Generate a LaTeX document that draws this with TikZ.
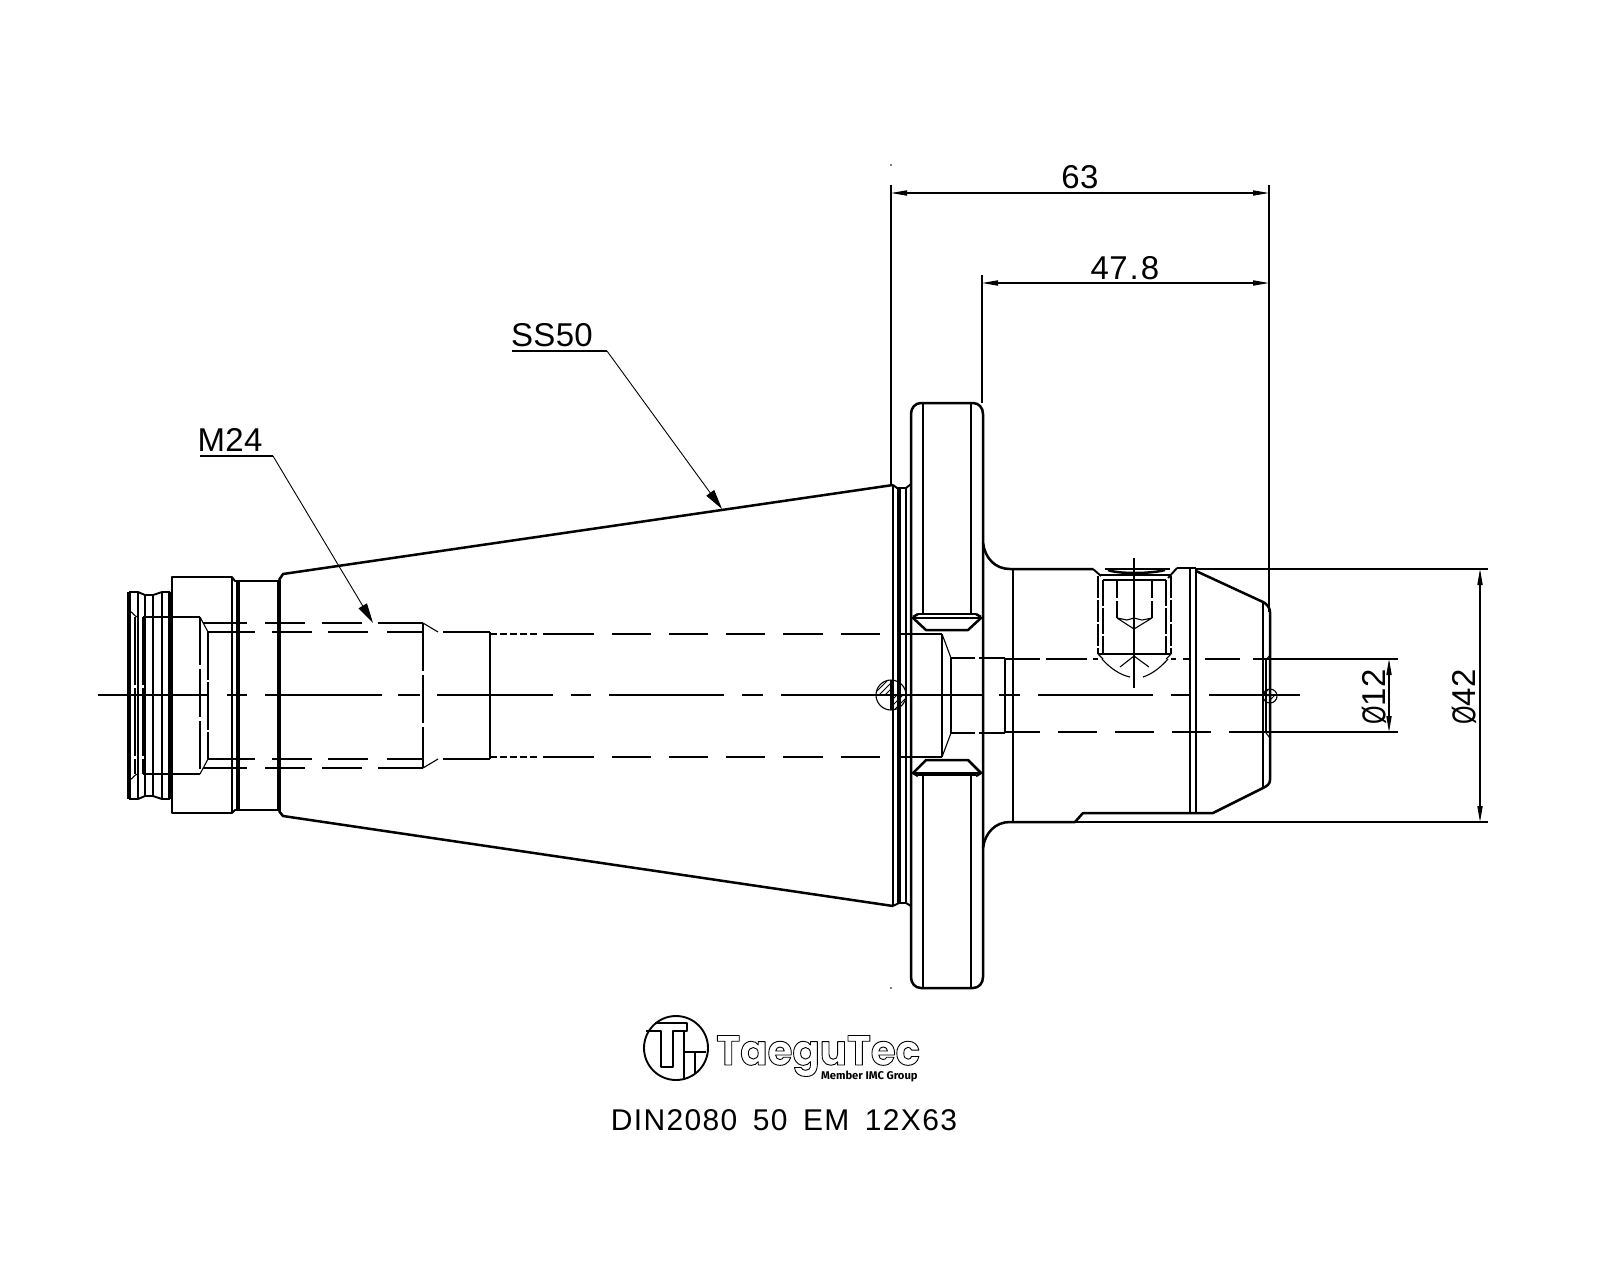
\documentclass[tikz,border=0pt]{standalone}
\usepackage{fontspec}
\usetikzlibrary{arrows.meta,patterns}
\setmainfont{Liberation Sans}
\newfontfamily\cadfont[LetterSpace=1]{Liberation Sans}
\newfontfamily\titlefont[LetterSpace=4.5,WordSpace=1.6]{Liberation Sans}
\newfontfamily\logofont{Poppins}
\newfontfamily\subfont{Fira Sans}
\newcommand\dashrow[2]{\foreach \a/\b in {#2} \draw[ln] (\a,#1) -- (\b,#1);}
\newcommand\outlined[1]{\special{pdf:code 1 Tr 0.45 w}#1\special{pdf:code 0 Tr}}
\newcommand\dia{\scalebox{0.72}[1]{Ø}}
\tikzset{
 ln/.style={line width=0.55pt,black},
 lna/.style={line width=0.95pt,black},
 lnb/.style={line width=1.25pt,black},
 lnc/.style={line width=1.8pt,black},
 lnd/.style={line width=2.4pt,black},
 dimline/.style={line width=0.55pt,black,{Triangle[length=8pt,width=2.6pt]}-{Triangle[length=8pt,width=2.6pt]}},
 leader/.style={line width=0.45pt,black,-{Triangle[length=10pt,width=4.8pt]}},
 lbl/.style={font=\fontsize{16.5}{16.5}\selectfont\cadfont,inner sep=0pt},
 hatch/.style={pattern=north east lines,draw=none}
}
\begin{document}
\begin{tikzpicture}[x=0.5pt,y=-0.5pt,line cap=butt,line join=round]
\useasboundingbox[fill=white] (0,0) rectangle (1600,1280);

% --- axis and hidden lines
\dashrow{695}{98/208,227/247,265/382,398/420,437/553,571/591,609/724,742/763,781/982,999/1020,1038/1153,1171/1190,1209/1300}
\dashrow{617}{143/168,173/200}
\dashrow{774}{143/168,173/200}
\dashrow{623}{203/247,265/305,322/362,378/423}
\dashrow{768}{203/247,265/305,322/362,378/423}
\dashrow{632}{208/255,272/312,328/368,387/423,443/489}
\dashrow{759}{208/255,272/312,328/368,387/423,443/489}
\dashrow{634}{490/497,500/507,510/517,520/527,530/537,543/594,612/651,669/708,726/765,783/823,841/880,898/942}
\dashrow{757}{490/497,500/507,510/517,520/527,530/537,543/594,612/651,669/708,726/765,783/823,841/880,898/942}
\dashrow{658}{951/975,979/1005}
\dashrow{733}{951/975,979/1005}
\dashrow{659}{1005/1040,1046/1087,1093/1098,1171/1176,1183/1190,1205/1240,1253/1398}
\dashrow{732}{1005/1040,1058/1097,1115/1154,1172/1211,1229/1398}
\draw[ln,dash pattern=on 34pt off 1.5pt] (135,617) -- (135,774);
\draw[ln,dash pattern=on 34pt off 1.5pt] (143,617) -- (143,774);
\draw[ln,dash pattern=on 24pt off 2pt] (200,617) -- (200,774);
\draw[ln,dash pattern=on 24pt off 1pt] (208,632) -- (208,759);
\draw[ln,dash pattern=on 24pt off 2pt] (423,623) -- (423,768);
\draw[ln] (200,617) -- (208,632) (200,774) -- (208,759);
\draw[ln] (423,623) -- (438,632) (423,768) -- (438,759);
\draw[ln] (130,611) .. controls (133,613) and (135,617) .. (138,617);
\draw[ln] (130,780) .. controls (133,778) and (135,774) .. (138,774);
\draw[ln] (942,634) -- (942,757) (951,658) -- (951,733);
\draw[ln] (942,634) -- (951,658) (942,757) -- (951,733);

% --- pull-stud end
\draw[lna] (138,592) -- (138,799);
\draw[lnc] (129,592) -- (129,799);
\draw[lnb] (145,595) -- (145,796);
\draw[lna] (153,595) -- (153,796);
\draw[lna] (162,592) -- (162,799);
\draw[lnd] (170,592) -- (170,799);
\draw[lna] (129,592) -- (138,592) -- (145,595) -- (153,595) -- (162,592) -- (170,592);
\draw[lna] (129,799) -- (138,799) -- (145,796) -- (153,796) -- (162,799) -- (170,799);
\draw[lnb] (172,577) -- (232,577) -- (232,813) -- (172,813) -- cycle;
\draw[lna] (232,577) -- (235,581) -- (238,581) (232,813) -- (235,810) -- (238,810);
\draw[lnc] (238,581) -- (238,810);
\draw[lnb] (238,581) -- (279,581) (238,810) -- (279,810);
\draw[lnd] (279,580) -- (279,811);
\draw[lnb] (279,580) -- (283,574) -- (893,485);
\draw[lnb] (279,811) -- (283,816) -- (893,906);
\draw[lnb] (490,632) -- (490,759);
\draw[ln] (480,632) -- (490,632) (480,759) -- (490,759);

% --- flange
\draw[lnb] (893,485) -- (893,906);
\draw[lnd] (899,488) -- (899,903);
\draw[lnb] (906,488) -- (906,903);
\draw[lna] (893,485) -- (897,488) -- (906,488) -- (911,484);
\draw[lna] (893,906) -- (899,903) -- (906,903) -- (911,906);
\draw[lnb] (921,403) .. controls (915,403) and (911,408) .. (911,414) -- (911,977) .. controls (911,983) and (915,988) .. (921,988) -- (973,988) .. controls (979,988) and (983,983) .. (983,977) -- (983,414) .. controls (983,408) and (979,403) .. (973,403) -- cycle;
\draw[lnb] (923,403) -- (923,614) (971,403) -- (971,614);
\draw[lnb] (923,775) -- (923,988) (971,775) -- (971,988);
\draw[lna] (918,614) -- (976,614);
\draw[lnb] (912,618) -- (982,618);
\draw[lnb] (913,617) -- (918,614) (976,614) -- (981,617);
\draw[lnb] (913,618) -- (926,630) -- (968,630) -- (981,618);
\draw[lna] (918,775) -- (976,775);
\draw[lnb] (912,773) -- (982,773);
\draw[lnb] (913,773) -- (918,776) (976,776) -- (981,773);
\draw[lnb] (913,773) -- (926,760) -- (968,760) -- (981,773);

% --- hub
\draw[lnb] (983,543) .. controls (985,558) and (995,569) .. (1010,569) -- (1093,569);
\draw[lnb] (983,848) .. controls (985,833) and (995,822) .. (1010,822) -- (1075,822) -- (1083,813) -- (1213,813) -- (1263,788) .. controls (1267,786) and (1270,784) .. (1270,780) -- (1270,612) .. controls (1270,608) and (1267,604) .. (1263,602) -- (1196,571);
\draw[lnb] (1177,568) -- (1196,568);
\draw[lnb] (1005,658) -- (1005,733);
\draw[lnb] (1013,569) -- (1013,822);
\draw[lnb] (1190,569) -- (1190,813);
\draw[lnb] (1196,569) -- (1196,813);
\draw[lnb] (1263,602) -- (1263,788);
\draw[ln] (1266,660) -- (1266,733);
\draw[ln] (1266,660) -- (1270,655) (1266,733) -- (1270,738);

% --- set screw
\draw[lna] (1093,569) -- (1101,576) (1177,568) -- (1168,578);
\draw[lnb] (1108,570) .. controls (1118,574) and (1150,574) .. (1165,570);
\draw[ln] (1105,569) -- (1170,569);
\draw[lna] (1099,575) -- (1170,575);
\draw[ln] (1103,580) -- (1166,580);
\draw[ln,dash pattern=on 11pt off 1pt] (1098,576) -- (1098,654);
\draw[ln,dash pattern=on 11pt off 1pt] (1171,576) -- (1171,654);
\draw[ln,dash pattern=on 13pt off 1pt] (1103,580) -- (1103,654);
\draw[ln,dash pattern=on 13pt off 1pt] (1166,580) -- (1166,654);
\draw[ln,dash pattern=on 9pt off 1.5pt] (1117,580) -- (1117,618);
\draw[ln,dash pattern=on 9pt off 1.5pt] (1152,580) -- (1152,618);
\draw[ln] (1117,618) -- (1134,629) -- (1152,618) (1117,618) -- (1127,620) -- (1134,618) -- (1142,620) -- (1152,618);
\draw[ln] (1098,654) -- (1171,654);
\draw[ln] (1098,654) -- (1103,659) (1171,654) -- (1166,659);
\draw[ln] (1102,659) .. controls (1110,668) and (1120,675) .. (1130,677);
\draw[ln] (1168,659) .. controls (1160,668) and (1152,674) .. (1143,677);
\draw[ln] (1120,667) -- (1134,656) -- (1149,667);
\draw[ln] (1134,558) -- (1134,688);

% --- section marks
\draw[ln] (891,695) circle[radius=15];
\fill[hatch] (891,695) -- (876,695) arc[start angle=180,end angle=270,radius=15] -- cycle;
\fill[hatch] (891,695) -- (906,695) arc[start angle=0,end angle=90,radius=15] -- cycle;
\draw[ln] (891,680) -- (891,710);
\draw[ln] (1270,696) circle[radius=7];
\fill[pattern=north east lines] (1270,696) -- (1263,696) arc[start angle=180,end angle=270,radius=7] -- cycle;
\fill[pattern=north east lines] (1270,696) -- (1277,696) arc[start angle=0,end angle=90,radius=7] -- cycle;
\fill (891,165) circle[radius=0.8];
\fill (891,988) circle[radius=0.8];

% --- dimensions
\coordinate (d63a) at (891,193); \coordinate (d63b) at (1269,193);
\coordinate (d47a) at (982,283); \coordinate (d47b) at (1269,283);
\coordinate (d42a) at (1480,569); \coordinate (d42b) at (1480,822);
\coordinate (d12a) at (1389,659); \coordinate (d12b) at (1389,732);
\draw[ln] (891,185) -- (891,485) (982,275) -- (982,403) (1269,185) -- (1269,612);
\draw[ln] (1196,569) -- (1488,569) (1075,822) -- (1488,822);
\draw[dimline] (d63a) -- (d63b);
\draw[dimline] (d47a) -- (d47b);
\draw[dimline] (d42a) -- (d42b);
\draw[dimline] (d12a) -- (d12b);
\node[lbl] (t63) at (1080,177) {63};
\node[lbl] (t47) at (1125,268) {47\kern1pt.\kern1pt8};
\node[lbl,rotate=90] (t42) at (1464,697) {\dia42};
\node[lbl,rotate=90] (t12) at (1374,697) {\dia12};

% --- leaders
\node[lbl] (tm) at (230,440) {M24};
\node[lbl] (tss) at (552,335) {SS50};
\coordinate (m0) at (200,456); \coordinate (m1) at (273,456); \coordinate (m2) at (373,623);
\coordinate (s0) at (512,351); \coordinate (s1) at (607,351); \coordinate (s2) at (722,509);
\draw[line width=0.55pt] (m0) -- (m1);
\draw[leader] (m1) -- (m2);
\draw[line width=0.55pt] (s0) -- (s1);
\draw[leader] (s1) -- (s2);

% --- logo
\draw[lna] (676,1048) circle[radius=32];
\draw[lna] (646,1031) -- (661,1031) -- (661,1067) -- (673,1067) -- (673,1031) -- (687,1031) -- (687,1023) -- (655,1023);
\draw[lna] (684,1031) -- (684,1052) -- (706,1052);
\draw[lna] (684,1052) -- (684,1079);
\draw[lna] (695,1052) -- (695,1074);
\node[inner sep=0pt,anchor=base west,font=\fontsize{21}{21}\selectfont\logofont\bfseries] (tlogo) at (716,1065) {\scalebox{0.96}[1]{\outlined{TaeguTec}}};
\node[inner sep=0pt,anchor=east,font=\fontsize{5.6}{6}\selectfont\subfont\bfseries] (tsub) at (918,1076) {Member IMC Group};
\node[inner sep=0pt,font=\fontsize{15}{15}\selectfont\titlefont] (ttitle) at (784,1120) {DIN2080 50 EM 12X63};
\end{tikzpicture}
\end{document}
